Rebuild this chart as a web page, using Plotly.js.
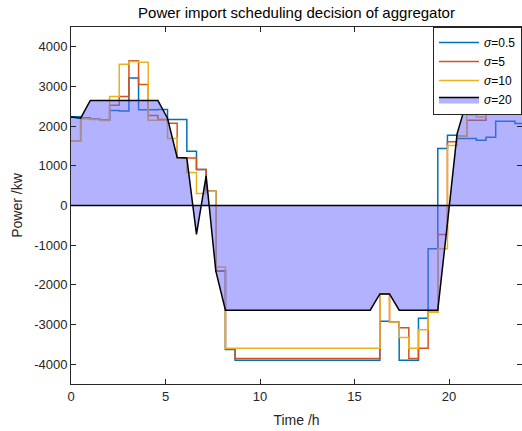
<!DOCTYPE html>
<html>
<head>
<meta charset="utf-8">
<script src="https://cdn.plot.ly/plotly-3.0.1.min.js"></script>
<style>html,body{margin:0;padding:0;background:#fff;}#chart{width:522px;height:431px;}</style>
</head>
<body>
<div id="chart"></div>
<script>
// Time grid (h): 48 samples from 0 to 24
const timeH = [0, 0.511, 1.021, 1.532, 2.043, 2.553, 3.064, 3.574, 4.085, 4.596,
  5.106, 5.617, 6.128, 6.638, 7.149, 7.660, 8.170, 8.681, 9.191, 9.702,
  10.213, 10.723, 11.234, 11.745, 12.255, 12.766, 13.277, 13.787, 14.298, 14.809,
  15.319, 15.830, 16.340, 16.851, 17.362, 17.872, 18.383, 18.894, 19.404, 19.915,
  20.426, 20.936, 21.447, 21.957, 22.468, 22.979, 23.489, 24.000];

// sigma = 0.5
const powerSigma05 = [2240, 2205, 2172, 2148, 2395, 2380, 3216, 2415, 2415, 2420,
  2170, 2170, 1370, 907, 360, -1650, -3630, -3900, -3900, -3900,
  -3900, -3900, -3900, -3900, -3900, -3900, -3900, -3900, -3900, -3900,
  -3900, -3900, -2920, -2930, -3900, -3900, -2840, -1090, 1436, 1771,
  1688, 1688, 1646, 1721, 2124, 2124, 2065, 2065];

// sigma = 5
const powerSigma5 = [1630, 2208, 2175, 2150, 2530, 2750, 3650, 3048, 2267, 2166,
  2075, 1200, 1200, 907, 360, -1654, -3620, -3860, -3860, -3860,
  -3860, -3860, -3860, -3860, -3860, -3860, -3860, -3860, -3860, -3860,
  -3860, -3860, -2240, -2930, -3080, -3860, -3600, -2690, -730, 1610,
  1746, 2150, 2150, 2300, 2430, 2430, 2400, 2400];

// sigma = 10
const powerSigma10 = [1630, 2190, 2165, 2145, 2750, 3560, 3630, 3610, 2150, 2150,
  1690, 1200, 830, 300, 360, -1550, -3600, -3600, -3600, -3600,
  -3600, -3600, -3600, -3600, -3600, -3600, -3600, -3600, -3600, -3600,
  -3600, -3600, -2230, -2940, -3330, -3600, -3130, -2690, -1090, 1515,
  1746, 2290, 2230, 2430, 2500, 2480, 2430, 2400];

// sigma = 20 (area)
const powerSigma20 = [2230, 2200, 2650, 2650, 2650, 2650, 2650, 2650, 2650, 2650,
  2200, 1210, 1200, -730, 745, -1650, -2640, -2640, -2640, -2640,
  -2640, -2640, -2640, -2640, -2640, -2640, -2640, -2640, -2640, -2640,
  -2640, -2640, -2230, -2230, -2640, -2640, -2640, -2640, -2640, -450,
  1806, 2640, 2590, 2540, 2480, 2430, 2380, 2330];

const seriesNames = ['<i>σ</i>=0.5', '<i>σ</i>=5', '<i>σ</i>=10', '<i>σ</i>=20'];
const xTicks = [0, 5, 10, 15, 20];
const yTicks = [-4000, -3000, -2000, -1000, 0, 1000, 2000, 3000, 4000];

const axisCol = '#262626';
const fontFam = 'Liberation Sans, Arial, Helvetica, sans-serif';

const traces = [
  {x: timeH, y: powerSigma05, name: seriesNames[0], mode: 'lines',
   line: {shape: 'hv', color: '#0072BD', width: 1.5}},
  {x: timeH, y: powerSigma5, name: seriesNames[1], mode: 'lines',
   line: {shape: 'hv', color: '#D95319', width: 1.5}},
  {x: timeH, y: powerSigma10, name: seriesNames[2], mode: 'lines',
   line: {shape: 'hv', color: '#EDB120', width: 1.5}},
  {x: timeH, y: powerSigma20, name: seriesNames[3], mode: 'lines',
   fill: 'tozeroy', fillcolor: 'rgba(102,102,255,0.5)',
   line: {color: '#000000', width: 1.5}}
];

const layout = {
  width: 522, height: 431,
  margin: {l: 71, r: 0, t: 27, b: 47},
  paper_bgcolor: '#ffffff', plot_bgcolor: '#ffffff',
  font: {family: fontFam, color: axisCol, size: 13},
  title: {text: 'Power import scheduling decision of aggregator',
          font: {family: fontFam, size: 15, color: '#000000'},
          x: 0.5, xref: 'paper', y: 1 - 13/431, yref: 'container', yanchor: 'middle'},
  xaxis: {
    range: [0, 23.86], tickvals: xTicks, ticktext: xTicks.map(String),
    ticks: 'inside', ticklen: 5, tickcolor: axisCol, tickwidth: 1,
    showline: true, linecolor: axisCol, linewidth: 1, mirror: 'ticks',
    showgrid: false, zeroline: false,
    tickfont: {size: 13, color: axisCol},
    title: {text: 'Time /h', font: {size: 14, color: axisCol}, standoff: 12}
  },
  yaxis: {
    range: [-4500, 4500], tickvals: yTicks, ticktext: yTicks.map(String),
    ticks: 'inside', ticklen: 5, tickcolor: axisCol, tickwidth: 1,
    showline: true, linecolor: axisCol, linewidth: 1, mirror: 'ticks',
    showgrid: false, zeroline: false,
    tickfont: {size: 13, color: axisCol},
    title: {text: 'Power /kw', font: {size: 14, color: axisCol}, standoff: 8}
  },
  shapes: [{type: 'line', xref: 'paper', x0: 0, x1: 1, yref: 'y', y0: 0, y1: 0,
            line: {color: '#000000', width: 1.5}, layer: 'above'}],
  legend: {x: 1, xanchor: 'right', y: 1, yanchor: 'top',
           bgcolor: '#ffffff', bordercolor: axisCol, borderwidth: 1,
           itemwidth: 40,
           font: {size: 12, color: '#000000'}, tracegroupgap: 0},
  showlegend: true
};

Plotly.newPlot('chart', traces, layout, {staticPlot: true, displayModeBar: false});
</script>
</body>
</html>
